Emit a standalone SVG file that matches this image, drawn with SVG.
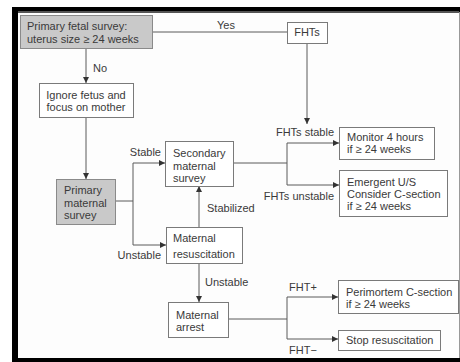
<svg xmlns="http://www.w3.org/2000/svg" width="460" height="362" viewBox="0 0 460 362">
<style>
text{font-family:"Liberation Sans",Arial,sans-serif;font-size:11px;fill:#3a3a3a}
.box{fill:#fff;stroke:#7a7a7a;stroke-width:1}
.grey{fill:#c9c9c9;stroke:#8a8a8a;stroke-width:1}
.ln{fill:none;stroke:#5a5a5a;stroke-width:1}
.m{text-anchor:middle}
.e{text-anchor:end}
</style>
<defs>
<marker id="ah" viewBox="0 0 6 6" refX="6" refY="3" markerWidth="6" markerHeight="6" markerUnits="userSpaceOnUse" orient="auto">
<path d="M0,0 L6,3 L0,6 z" fill="#333"/>
</marker>
</defs>
<rect x="0" y="0" width="460" height="362" fill="#fff"/>
<g id="frame">
<rect x="12" y="7" width="448" height="5" fill="#000"/>
<rect x="12" y="11" width="447" height="2" fill="#555"/>
<rect x="12" y="7" width="6" height="355" fill="#000"/>
<rect x="12" y="358" width="448" height="4" fill="#000"/>
<rect x="18" y="13" width="441" height="345" fill="#fdfdfd"/>
<line x1="459.5" y1="12" x2="459.5" y2="358" stroke="#999" stroke-width="1"/>
</g>
<g id="connectors">
<path class="ln" d="M152,32 H287"/>
<path class="ln" d="M307,43 V124" marker-end="url(#ah)"/>
<path class="ln" d="M86,48 V83" marker-end="url(#ah)"/>
<path class="ln" d="M86,117 V179" marker-end="url(#ah)"/>
<path class="ln" d="M115,201 H133 M133,163 V245"/>
<path class="ln" d="M133,163 H165" marker-end="url(#ah)"/>
<path class="ln" d="M133,245 H166" marker-end="url(#ah)"/>
<path class="ln" d="M199,227 V186" marker-end="url(#ah)"/>
<path class="ln" d="M233,163 H287 M287,143 V185"/>
<path class="ln" d="M287,143 H339" marker-end="url(#ah)"/>
<path class="ln" d="M287,185 H339" marker-end="url(#ah)"/>
<path class="ln" d="M199,263 V302" marker-end="url(#ah)"/>
<path class="ln" d="M228,319 H287 M287,297 V339"/>
<path class="ln" d="M287,297 H338" marker-end="url(#ah)"/>
<path class="ln" d="M287,339 H338" marker-end="url(#ah)"/>
<text x="217" y="29">Yes</text>
<text x="93" y="72">No</text>
<text x="161" y="156" class="e">Stable</text>
<text x="161" y="259" class="e">Unstable</text>
<text x="207" y="212">Stabilized</text>
<text x="205" y="286">Unstable</text>
<text x="334" y="136" class="e">FHTs stable</text>
<text x="334" y="200" class="e">FHTs unstable</text>
<text x="289" y="291">FHT+</text>
<text x="289" y="354">FHT−</text>
</g>
<g id="primary-fetal">
<rect class="grey" x="20.5" y="15.5" width="132" height="33"/>
<text x="27" y="30">Primary fetal survey:</text>
<text x="27" y="43">uterus size ≥ 24 weeks</text>
</g>
<g id="fhts">
<rect class="box" x="287.5" y="22.5" width="40" height="21"/>
<text x="307" y="36" class="m">FHTs</text>
</g>
<g id="ignore">
<rect class="box" x="39.5" y="83.5" width="94" height="34"/>
<text x="86" y="99" class="m">Ignore fetus and</text>
<text x="86" y="111" class="m">focus on mother</text>
</g>
<g id="primary-maternal">
<rect class="grey" x="56.5" y="179.5" width="59" height="45"/>
<text x="64" y="194">Primary</text>
<text x="64" y="207">maternal</text>
<text x="64" y="219">survey</text>
</g>
<g id="secondary">
<rect class="box" x="165.5" y="141.5" width="68" height="45"/>
<text x="173" y="157">Secondary</text>
<text x="173" y="170">maternal</text>
<text x="173" y="182">survey</text>
</g>
<g id="monitor">
<rect class="box" x="339.5" y="127.5" width="95" height="32"/>
<text x="347" y="141">Monitor 4 hours</text>
<text x="347" y="153">if ≥ 24 weeks</text>
</g>
<g id="emergent">
<rect class="box" x="339.5" y="170.5" width="108" height="46"/>
<text x="347" y="186">Emergent U/S</text>
<text x="347" y="198">Consider C-section</text>
<text x="347" y="210">if ≥ 24 weeks</text>
</g>
<g id="resuscitation">
<rect class="box" x="166.5" y="227.5" width="76" height="36"/>
<text x="173" y="242">Maternal</text>
<text x="173" y="258">resuscitation</text>
</g>
<g id="arrest">
<rect class="box" x="168.5" y="302.5" width="60" height="35"/>
<text x="176" y="319">Maternal</text>
<text x="176" y="331">arrest</text>
</g>
<g id="perimortem">
<rect class="box" x="338.5" y="280.5" width="120" height="33"/>
<text x="346" y="296">Perimortem C-section</text>
<text x="346" y="308">if ≥ 24 weeks</text>
</g>
<g id="stop">
<rect class="box" x="338.5" y="330.5" width="102" height="20"/>
<text x="346" y="344">Stop resuscitation</text>
</g>
</svg>
